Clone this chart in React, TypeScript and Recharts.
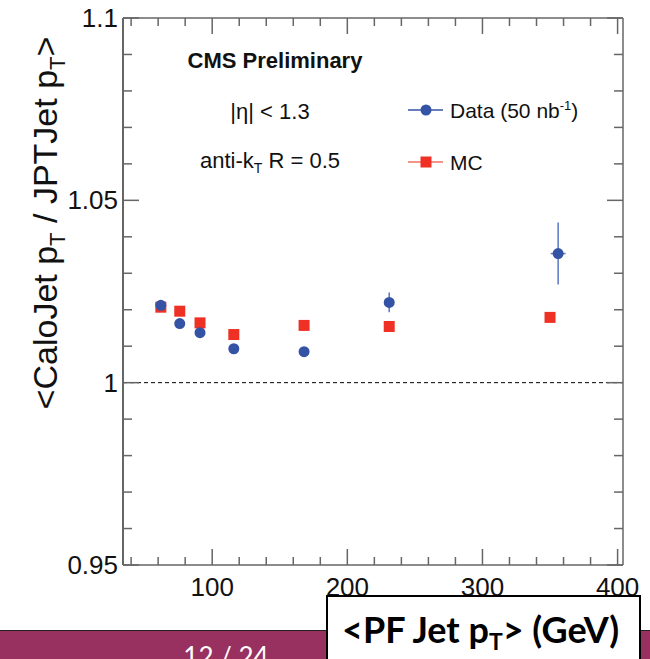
import React from 'react';
import { ComposedChart, Scatter, XAxis, YAxis, ErrorBar, ReferenceLine } from 'recharts';

// Data (50 nb^-1)
const dataPt = [62, 76, 91, 116, 168, 231, 356];
const dataRatio = [1.0212, 1.0162, 1.0137, 1.0093, 1.0085, 1.022, 1.0354];
const dataErrY = [0.0006, 0.0006, 0.0006, 0.0007, 0.0008, 0.0027, 0.0085];
const dataErrX = [1, 1, 1.5, 2, 2.5, 3, 5.5];

// MC
const mcPt = [62, 76, 91, 116, 168, 231, 350];
const mcRatio = [1.0207, 1.0196, 1.0164, 1.0132, 1.0157, 1.0154, 1.0179];

const xTicks = [40, 60, 80, 100, 120, 140, 160, 180, 200, 220, 240, 260, 280, 300, 320, 340, 360, 380, 400];
const xLabels = [100, 200, 300, 400];
const yTicks = [0.95, 0.96, 0.97, 0.98, 0.99, 1.0, 1.01, 1.02, 1.03, 1.04, 1.05, 1.06, 1.07, 1.08, 1.09, 1.1];
const yLabels = [0.95, 1.0, 1.05, 1.1];

const dataPoints = dataPt.map((x, i) => ({ x, y: dataRatio[i], ey: dataErrY[i], ex: dataErrX[i] }));
const mcPoints = mcPt.map((x, i) => ({ x, y: mcRatio[i] }));

const BLUE = '#3553a5';
const RED = '#ee3124';
const AXIS = '#666';
const FONT = '"Liberation Sans", Arial, Helvetica, sans-serif';

const isMajor = (v: number, majors: number[]) => majors.some((m) => Math.abs(m - v) < 1e-6);

const LeftTick = ({ x, y, payload }: any) => {
  const major = isMajor(payload.value, yLabels);
  return (
    <g>
      <line x1={x} x2={x + (major ? 16 : 9)} y1={y} y2={y} stroke={AXIS} strokeWidth={1.5} />
      {major && (
        <text x={x - 5} y={y + 9} textAnchor="end" fontSize={26} fontFamily={FONT} fill="#111">
          {String(payload.value)}
        </text>
      )}
    </g>
  );
};

const RightTick = ({ x, y, payload }: any) => {
  const major = isMajor(payload.value, yLabels);
  return <line x1={x} x2={x - (major ? 16 : 9)} y1={y} y2={y} stroke={AXIS} strokeWidth={1.5} />;
};

const BottomTick = ({ x, y, payload }: any) => {
  const major = isMajor(payload.value, xLabels);
  return (
    <g>
      <line x1={x} x2={x} y1={y} y2={y - (major ? 16 : 8)} stroke={AXIS} strokeWidth={1.5} />
      {major && (
        <text x={x} y={y + 31} textAnchor="middle" fontSize={26} fontFamily={FONT} fill="#111">
          {String(payload.value)}
        </text>
      )}
    </g>
  );
};

const TopTick = ({ x, y, payload }: any) => {
  const major = isMajor(payload.value, xLabels);
  return <line x1={x} x2={x} y1={y} y2={y + (major ? 16 : 8)} stroke={AXIS} strokeWidth={1.5} />;
};

const DataDot = ({ cx, cy }: any) => <circle cx={cx} cy={cy} r={5.5} fill={BLUE} />;
const McSquare = ({ cx, cy }: any) => <rect x={cx - 5.5} y={cy - 5.5} width={11} height={11} fill={RED} />;

export default function App() {
  return (
    <div style={{ position: 'absolute', left: 0, top: 0, width: 650, height: 659, background: '#fff' }}>
      <ComposedChart width={650} height={659} margin={{ top: 17, right: 26, bottom: 93, left: 122 }}>
        <XAxis
          type="number"
          dataKey="x"
          domain={[34, 404]}
          allowDataOverflow
          ticks={xTicks}
          interval={0}
          height={1}
          tickSize={0}
          tickMargin={0}
          tickLine={false}
          tick={<BottomTick />}
          axisLine={{ stroke: AXIS, strokeWidth: 1.5 }}
        />
        <XAxis
          xAxisId="top"
          orientation="top"
          type="number"
          dataKey="x"
          domain={[34, 404]}
          allowDataOverflow
          ticks={xTicks}
          interval={0}
          height={1}
          tickSize={0}
          tickMargin={0}
          tickLine={false}
          tick={<TopTick />}
          axisLine={{ stroke: AXIS, strokeWidth: 1.5 }}
        />
        <YAxis
          type="number"
          domain={[0.95, 1.1]}
          allowDataOverflow
          ticks={yTicks}
          interval={0}
          width={1}
          tickSize={0}
          tickMargin={0}
          tickLine={false}
          tick={<LeftTick />}
          axisLine={{ stroke: AXIS, strokeWidth: 2 }}
        />
        <YAxis
          yAxisId="right"
          orientation="right"
          type="number"
          domain={[0.95, 1.1]}
          allowDataOverflow
          ticks={yTicks}
          interval={0}
          width={1}
          tickSize={0}
          tickMargin={0}
          tickLine={false}
          tick={<RightTick />}
          axisLine={{ stroke: AXIS, strokeWidth: 1.5 }}
        />
        <ReferenceLine y={1} stroke="#000" strokeWidth={1} strokeDasharray="4 3" />
        <Scatter name="MC" data={mcPoints} dataKey="y" shape={<McSquare />} isAnimationActive={false} />
        <Scatter name="Data (50 nb-1)" data={dataPoints} dataKey="y" shape={<DataDot />} isAnimationActive={false}>
          <ErrorBar dataKey="ey" direction="y" width={0} stroke="#5a76c4" strokeWidth={1.5} />
          <ErrorBar dataKey="ex" direction="x" width={0} stroke="#5a76c4" strokeWidth={1.5} />
        </Scatter>
      </ComposedChart>

      <svg width={650} height={659} style={{ position: 'absolute', left: 0, top: 0, pointerEvents: 'none' }} fontFamily={FONT}>
        {/* y axis title */}
        <text transform="translate(57,223) rotate(-90)" textAnchor="middle" fontSize={34} fill="#111">
          &lt;CaloJet p<tspan dy={8} fontSize={22}>T</tspan>
          <tspan dy={-8}> / JPTJet p</tspan>
          <tspan dy={8} fontSize={22}>T</tspan>
          <tspan dy={-8}>&gt;</tspan>
        </text>

        {/* annotations */}
        <text x={275} y={68} textAnchor="middle" fontSize={22} fontWeight="bold" fill="#111">CMS Preliminary</text>
        <text x={270} y={119} textAnchor="middle" fontSize={22} fill="#111">|η| &lt; 1.3</text>
        <text x={270} y={168} textAnchor="middle" fontSize={22} fill="#111">
          anti-k<tspan dy={5} fontSize={14}>T</tspan>
          <tspan dy={-5}> R = 0.5</tspan>
        </text>

        {/* legend */}
        <line x1={408} x2={443} y1={110} y2={110} stroke={BLUE} strokeWidth={1.5} />
        <circle cx={426} cy={110} r={5.5} fill={BLUE} />
        <text x={450} y={118} fontSize={21} fill="#111">
          Data (50 nb<tspan dy={-8} fontSize={13}>-1</tspan>
          <tspan dy={8}>)</tspan>
        </text>
        <line x1={408} x2={443} y1={162} y2={162} stroke="#f07060" strokeWidth={1.5} />
        <rect x={420.5} y={156.5} width={11} height={11} fill={RED} />
        <text x={450} y={170} fontSize={21} fill="#111">MC</text>

        {/* slide footer */}
        <rect x={0} y={630} width={650} height={29} fill="#98315f" />
        <line x1={0} x2={650} y1={630.5} y2={630.5} stroke="#222" strokeWidth={1} />
        <text x={226} y={666} textAnchor="middle" fontSize={26} fontFamily="Lato, sans-serif" fill="#fff">12 / 24</text>
        <rect x={327} y={596} width={313} height={80} fill="#fff" stroke="#000" strokeWidth={2} />
        <text x={342} y={643} fontSize={36} fontWeight="bold" fontFamily="Lato, sans-serif" fill="#000">
          &lt;PF Jet p<tspan dy={7} fontSize={23}>T</tspan>
          <tspan dy={-7}>&gt; (GeV)</tspan>
        </text>
      </svg>
    </div>
  );
}
